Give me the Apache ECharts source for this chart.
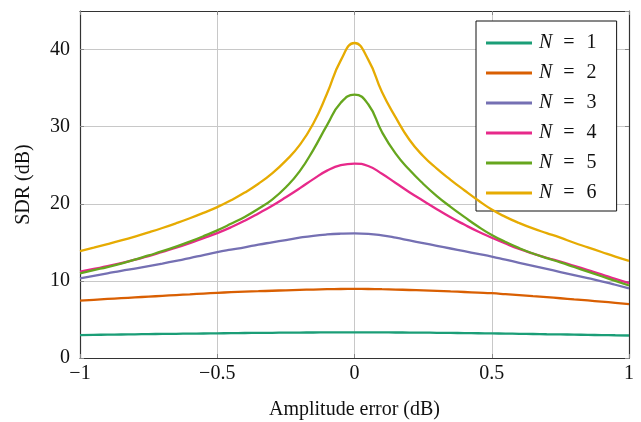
<!DOCTYPE html>
<html>
<head>
<meta charset="utf-8">
<script src="https://cdn.jsdelivr.net/npm/echarts@6/dist/echarts.min.js"></script>
<style>
  html, body { margin: 0; padding: 0; background: #fff; }
  #chart { width: 641px; height: 422px; }
</style>
</head>
<body>
<div id="chart"></div>
<script>
// Amplitude error (dB) sample positions
const amplitudeError = [-1, -0.95, -0.9, -0.85, -0.8, -0.75, -0.7, -0.65, -0.6, -0.55, -0.5, -0.45, -0.4, -0.35, -0.3, -0.25, -0.2, -0.15, -0.1, -0.05, 0,
  0.05, 0.1, 0.15, 0.2, 0.25, 0.3, 0.35, 0.4, 0.45, 0.5, 0.55, 0.6, 0.65, 0.7, 0.75, 0.8, 0.85, 0.9, 0.95, 1];
// SDR (dB) per N
const sdrN1 = [2.97, 3.0, 3.03, 3.05, 3.07, 3.1, 3.12, 3.14, 3.16, 3.18, 3.2, 3.22, 3.24, 3.26, 3.27, 3.29, 3.3, 3.31, 3.32, 3.33, 3.33,
  3.33, 3.32, 3.31, 3.3, 3.29, 3.27, 3.25, 3.23, 3.21, 3.19, 3.16, 3.14, 3.11, 3.08, 3.06, 3.03, 3.0, 2.97, 2.95, 2.92];
const sdrN2 = [7.44, 7.55, 7.66, 7.76, 7.86, 7.96, 8.06, 8.16, 8.26, 8.36, 8.45, 8.53, 8.6, 8.66, 8.72, 8.78, 8.83, 8.88, 8.92, 8.95, 8.96,
  8.95, 8.92, 8.88, 8.82, 8.76, 8.7, 8.63, 8.56, 8.48, 8.4, 8.28, 8.15, 8.02, 7.89, 7.75, 7.6, 7.46, 7.31, 7.16, 7.0];
const sdrN3 = [10.33, 10.65, 10.97, 11.3, 11.6, 11.92, 12.25, 12.6, 12.95, 13.35, 13.73, 14.05, 14.35, 14.7, 15.0, 15.3, 15.6, 15.85, 16.02, 16.12, 16.16,
  16.1, 15.9, 15.6, 15.25, 14.9, 14.55, 14.2, 13.85, 13.5, 13.15, 12.75, 12.35, 11.95, 11.55, 11.15, 10.75, 10.35, 9.95, 9.5, 9.04];
const sdrN4 = [11.19, 11.55, 11.9, 12.3, 12.75, 13.2, 13.75, 14.3, 14.9, 15.55, 16.2, 16.95, 17.8, 18.75, 19.75, 20.85, 22.0, 23.2, 24.3, 25.0, 25.2,
  24.9, 23.9, 22.7, 21.5, 20.4, 19.3, 18.25, 17.3, 16.4, 15.6, 14.85, 14.15, 13.55, 13.0, 12.5, 11.95, 11.4, 10.85, 10.25, 9.7];
const sdrN5 = [10.98, 11.4, 11.8, 12.25, 12.75, 13.3, 13.85, 14.45, 15.1, 15.8, 16.55, 17.4, 18.3, 19.35, 20.55, 22.15, 24.2, 27.0, 30.2, 33.1, 34.15,
  32.9, 29.3, 26.5, 24.4, 22.6, 21.0, 19.6, 18.3, 17.05, 15.95, 15.05, 14.25, 13.55, 12.95, 12.4, 11.8, 11.2, 10.6, 10.0, 9.4];
const sdrN6 = [13.86, 14.3, 14.76, 15.24, 15.75, 16.29, 16.86, 17.47, 18.12, 18.82, 19.57, 20.45, 21.45, 22.6, 23.95, 25.6, 27.6, 30.4, 34.3, 38.6, 40.85,
  38.7, 34.5, 31.2, 28.3, 26.2, 24.55, 23.1, 21.75, 20.45, 19.25, 18.3, 17.5, 16.8, 16.2, 15.6, 14.95, 14.35, 13.75, 13.15, 12.6];

const seriesNames = ['N = 1', 'N = 2', 'N = 3', 'N = 4', 'N = 5', 'N = 6'];
const seriesValues = [sdrN1, sdrN2, sdrN3, sdrN4, sdrN5, sdrN6];
const colors = ['#1b9e77', '#d95f02', '#7570b3', '#e7298a', '#66a61e', '#e6ab02'];

const xTicks = [-1, -0.5, 0, 0.5, 1];
const yTicks = [0, 10, 20, 30, 40];

const FONT = '"Liberation Serif", "DejaVu Serif", serif';
const fmtNum = v => (v < 0 ? '\u2212' + String(-v) : String(v));

const chart = echarts.init(document.getElementById('chart'), null, { renderer: 'canvas' });

const axisCommon = {
  axisLine: { show: true, onZero: false, lineStyle: { color: '#333', width: 1.2 } },
  axisTick: { show: true, inside: true, length: 4, lineStyle: { color: '#888', width: 1 } },
};

const option = {
  animation: false,
  backgroundColor: '#fff',
  color: colors,
  textStyle: { fontFamily: FONT },
  grid: { left: 80, right: 12, top: 11, bottom: 64, containLabel: false, outerBoundsMode: 'none' },
  xAxis: [
    Object.assign({}, axisCommon, {
      type: 'value', min: -1, max: 1, interval: 0.5, position: 'bottom',
      name: 'Amplitude error (dB)', nameLocation: 'middle', nameGap: 42,
      nameTextStyle: { fontFamily: FONT, fontSize: 20, color: '#111' },
      axisLabel: { fontFamily: FONT, fontSize: 20, color: '#111', margin: 6,
        formatter: v => xTicks.includes(v) ? fmtNum(v) : '' },
      splitLine: { show: true, lineStyle: { color: '#c8c8c8', width: 1 } }
    }),
    Object.assign({}, axisCommon, {
      type: 'value', min: -1, max: 1, interval: 0.5, position: 'top',
      axisLabel: { show: false }, splitLine: { show: false }
    })
  ],
  yAxis: [
    Object.assign({}, axisCommon, {
      type: 'value', min: 0, max: 45, interval: 10, position: 'left',
      name: 'SDR (dB)', nameLocation: 'middle', nameGap: 46, nameRotate: 90,
      nameTextStyle: { fontFamily: FONT, fontSize: 20, color: '#111' },
      axisLabel: { fontFamily: FONT, fontSize: 20, color: '#111', margin: 10,
        showMaxLabel: false,
        formatter: v => yTicks.includes(v) ? fmtNum(v) : '' },
      splitLine: { show: true, lineStyle: { color: '#c8c8c8', width: 1 } }
    }),
    Object.assign({}, axisCommon, {
      type: 'value', min: 0, max: 45, interval: 10, position: 'right',
      axisLabel: { show: false }, splitLine: { show: false }
    })
  ],
  legend: {
    orient: 'vertical',
    left: 476, top: 21,
    padding: [12, 20, 8, 10],
    backgroundColor: '#fff',
    borderColor: '#111',
    borderWidth: 1,
    borderRadius: 0,
    itemWidth: 46,
    itemHeight: 20,
    itemGap: 10,
    icon: 'path://M0,0 L46,0 L46,3 L0,3 Z',
    data: seriesNames.map((n, i) => ({ name: n, itemStyle: { color: colors[i] } })),
    formatter: name => '{i|N}{e|=}{n|' + name.split('= ')[1] + '}',
    textStyle: {
      fontFamily: FONT, fontSize: 20, color: '#111', lineHeight: 20,
      rich: {
        i: { fontFamily: FONT, fontSize: 20, fontStyle: 'italic', color: '#111', padding: [0, 0, 0, 2] },
        e: { fontFamily: FONT, fontSize: 20, color: '#111', padding: [0, 12, 0, 11] },
        n: { fontFamily: FONT, fontSize: 20, color: '#111' }
      }
    }
  },
  series: seriesNames.map((n, i) => ({
    name: n,
    type: 'line',
    xAxisIndex: 0,
    yAxisIndex: 0,
    data: amplitudeError.map((x, k) => [x, seriesValues[i][k]]),
    smooth: 0.5,
    symbol: 'none',
    lineStyle: { color: colors[i], width: 2.3 },
    z: 2 + i
  }))
};

chart.setOption(option);
</script>
</body>
</html>
